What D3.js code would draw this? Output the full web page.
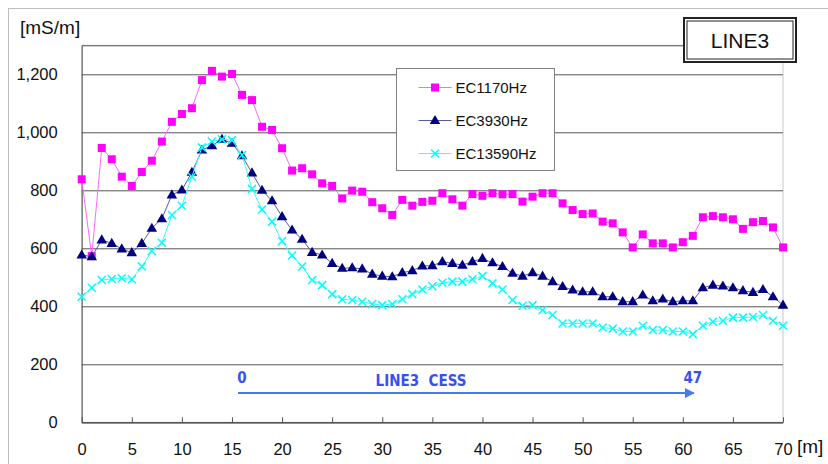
<!DOCTYPE html>
<html>
<head>
<meta charset="utf-8">
<script src="https://cdn.jsdelivr.net/npm/d3@7"></script>
<style>
body { margin: 0; background: #fff; }
svg { display: block; font-family: "Liberation Sans", Arial, sans-serif; }
</style>
</head>
<body>
<svg id="chart" width="828" height="464"></svg>
<script>
// distance along the line [m]
const dist = d3.range(0, 71);

const ec1170 = [838, 573, 946, 907, 847, 815, 863, 902, 968, 1036, 1063, 1083, 1180, 1212, 1192, 1201,
  1129, 1111, 1019, 1008, 945, 868, 876, 855, 824, 815, 772, 799, 795, 759, 738, 715, 767, 747, 760, 764,
  790, 769, 747, 787, 781, 790, 786, 787, 761, 778, 790, 790, 755, 732, 718, 720, 692, 686, 655, 603,
  648, 617, 617, 603, 621, 643, 707, 711, 707, 700, 667, 690, 694, 672, 603];

const ec3930 = [577, 571, 629, 617, 598, 585, 617, 669, 702, 784, 801, 862, 939, 954, 976, 962,
  919, 860, 800, 764, 709, 663, 631, 586, 577, 548, 531, 533, 529, 511, 504, 502, 516, 523, 539, 540,
  554, 548, 542, 554, 565, 550, 537, 514, 504, 516, 504, 485, 468, 456, 450, 450, 433, 433, 416, 416,
  439, 419, 425, 416, 419, 419, 464, 473, 470, 464, 454, 448, 458, 433, 404];

const ec13590 = [433, 464, 491, 494, 497, 493, 537, 591, 619, 715, 747, 847, 948, 968, 976, 973,
  922, 805, 734, 692, 625, 575, 537, 491, 473, 442, 424, 422, 416, 408, 404, 408, 424, 442, 458, 469,
  481, 485, 485, 493, 504, 479, 458, 422, 402, 404, 387, 370, 341, 341, 341, 341, 327, 323, 313, 313,
  333, 318, 318, 313, 313, 304, 333, 347, 350, 361, 361, 363, 370, 350, 333];

const seriesNames = ["EC1170Hz", "EC3930Hz", "EC13590Hz"];
const yTicks = [0, 200, 400, 600, 800, 1000, 1200];
const xTicks = d3.range(0, 71, 5);

// CESS survey arrow, in metres along the chart axis
const cessStart = 15.6, cessEnd = 61.1;
const cessLabels = ["0", "LINE3  CESS", "47"];

const svg = d3.select("#chart");

const x = d3.scaleLinear().domain([0, 70]).range([81.7, 783]);
const y = d3.scaleLinear().domain([0, 1300]).range([422.3, 45.3]);

// outer chart frame
svg.append("rect")
  .attr("x", 8.5).attr("y", 8.5)
  .attr("width", 900).attr("height", 600)
  .attr("fill", "none").attr("stroke", "#bdbdbd");

// plot area frame (top / right light)
svg.append("rect")
  .attr("x", x(0)).attr("y", y(1300))
  .attr("width", x(70) - x(0)).attr("height", y(0) - y(1300))
  .attr("fill", "#fff").attr("stroke", "#c8c8c8");

// gridlines + y labels
const yAxis = d3.axisLeft(y)
  .tickValues(yTicks)
  .tickSize(-(x(70) - x(0)))
  .tickPadding(24)
  .tickFormat(d3.format(","));

svg.append("g")
  .attr("transform", `translate(${x(0)},0)`)
  .call(yAxis)
  .call(g => g.select(".domain").attr("stroke", "#555"))
  .call(g => g.selectAll(".tick line").attr("stroke", "#555"))
  .call(g => g.selectAll(".tick text")
    .attr("font-size", 16.5).attr("fill", "#111")
    .attr("font-family", "Liberation Sans, Arial, sans-serif"));

// x axis with inside ticks
const xAxis = d3.axisBottom(x)
  .tickValues(xTicks)
  .tickSizeInner(-5)
  .tickSizeOuter(0)
  .tickPadding(21);

svg.append("g")
  .attr("transform", `translate(0,${y(0)})`)
  .call(xAxis)
  .call(g => g.select(".domain").attr("stroke", "#555"))
  .call(g => g.selectAll(".tick line").attr("stroke", "#555"))
  .call(g => g.selectAll(".tick text")
    .attr("font-size", 16.5).attr("fill", "#111")
    .attr("font-family", "Liberation Sans, Arial, sans-serif"));

// axis units
svg.append("text")
  .attr("x", 20).attr("y", 34)
  .attr("font-size", 19).attr("fill", "#111")
  .text("[mS/m]");

svg.append("text")
  .attr("x", 797).attr("y", 453)
  .attr("font-size", 19).attr("fill", "#111")
  .text("[m]");

// series
const series = [
  {name: seriesNames[0], values: ec1170, color: "#ff00ff", line: "#ff66ff", shape: "square"},
  {name: seriesNames[1], values: ec3930, color: "#000080", line: "#5a5aa0", shape: "triangle"},
  {name: seriesNames[2], values: ec13590, color: "#00ffff", line: "#33ffff", shape: "cross"}
];

const line = d3.line()
  .x((d, i) => x(dist[i]))
  .y(d => y(d));

function drawMarker(g, shape, color) {
  if (shape === "square") {
    g.append("rect")
      .attr("x", -4).attr("y", -4).attr("width", 8).attr("height", 8)
      .attr("fill", color);
  } else if (shape === "triangle") {
    g.append("path")
      .attr("d", d3.symbol().type(d3.symbolTriangle).size(48)())
      .attr("transform", "translate(0,0.5)")
      .attr("fill", color);
  } else {
    g.append("path")
      .attr("d", "M-4,-4L4,4M-4,4L4,-4")
      .attr("stroke", color).attr("stroke-width", 1.5)
      .attr("fill", "none");
  }
}

series.forEach(s => {
  svg.append("path")
    .datum(s.values)
    .attr("d", line)
    .attr("fill", "none")
    .attr("stroke", s.line)
    .attr("stroke-width", 1);

  svg.append("g")
    .selectAll("g")
    .data(s.values)
    .join("g")
    .attr("transform", (d, i) => `translate(${x(dist[i])},${y(d)})`)
    .each(function () { drawMarker(d3.select(this), s.shape, s.color); });
});

// legend
const legend = svg.append("g").attr("transform", "translate(396.5,68.5)");
legend.append("rect")
  .attr("width", 158).attr("height", 102)
  .attr("fill", "#fff").attr("stroke", "#808080");

const legendRows = legend.selectAll(".row")
  .data(series)
  .join("g")
  .attr("class", "row")
  .attr("transform", (d, i) => `translate(0,${19 + i * 33})`);

legendRows.append("line")
  .attr("x1", 22).attr("x2", 55)
  .attr("stroke", d => d.line);

legendRows.each(function (d) {
  const g = d3.select(this).append("g").attr("transform", "translate(38.5,0)");
  drawMarker(g, d.shape, d.color);
});

legendRows.append("text")
  .attr("x", 59).attr("dy", "0.36em")
  .attr("font-size", 15).attr("fill", "#111")
  .text(d => d.name);

// LINE3 title box (double border)
const tb = svg.append("g").attr("transform", "translate(684,18)");
tb.append("rect")
  .attr("width", 112).attr("height", 44)
  .attr("fill", "#fff").attr("stroke", "#222").attr("stroke-width", 2);
tb.append("rect")
  .attr("x", 3).attr("y", 3).attr("width", 106).attr("height", 38)
  .attr("fill", "none").attr("stroke", "#222").attr("stroke-width", 1);
tb.append("text")
  .attr("x", 56).attr("y", 22).attr("dy", "0.36em")
  .attr("text-anchor", "middle")
  .attr("font-size", 21).attr("fill", "#111")
  .text("LINE3");

// CESS arrow annotation
const arrowY = 393;
svg.append("defs").append("marker")
  .attr("id", "arrowhead")
  .attr("viewBox", "0 0 10 10")
  .attr("refX", 9).attr("refY", 5)
  .attr("markerWidth", 5).attr("markerHeight", 5)
  .attr("orient", "auto")
  .append("path")
  .attr("d", "M0,0L10,5L0,10Z")
  .attr("fill", "#4a78f5");

svg.append("line")
  .attr("x1", x(cessStart)).attr("x2", x(cessEnd))
  .attr("y1", arrowY).attr("y2", arrowY)
  .attr("stroke", "#4a78f5").attr("stroke-width", 2)
  .attr("marker-end", "url(#arrowhead)");

const cessText = svg.append("g")
  .attr("font-family", "DejaVu Sans Condensed, DejaVu Sans, sans-serif")
  .attr("font-weight", "bold")
  .attr("font-size", 15)
  .attr("fill", "#3a4ff0");

cessText.append("text")
  .attr("x", x(cessStart) + 4).attr("y", 383)
  .attr("text-anchor", "middle")
  .text(cessLabels[0]);

cessText.append("text")
  .attr("x", 421).attr("y", 386)
  .attr("text-anchor", "middle")
  .attr("xml:space", "preserve")
  .style("white-space", "pre")
  .text(cessLabels[1]);

cessText.append("text")
  .attr("x", x(cessEnd) - 1).attr("y", 383)
  .attr("text-anchor", "middle")
  .text(cessLabels[2]);
</script>
</body>
</html>
